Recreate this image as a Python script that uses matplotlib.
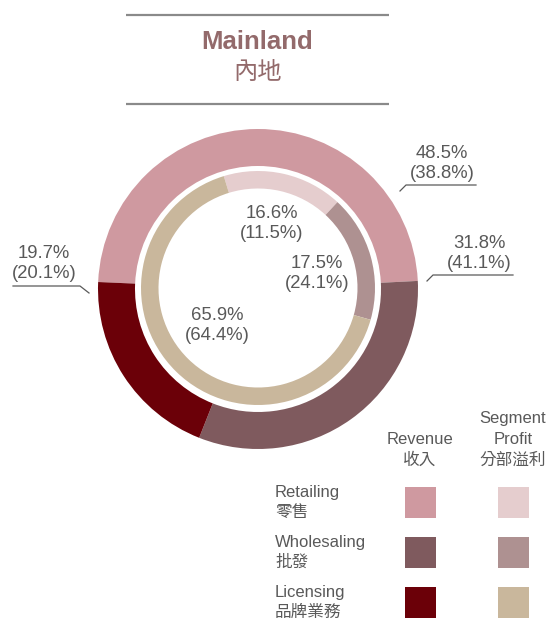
import matplotlib
matplotlib.use("Agg")
import matplotlib.pyplot as plt
from matplotlib.patches import Rectangle

# ---------------- data ----------------
categories = ["Retailing", "Wholesaling", "Licensing"]
categories_zh = ["零售", "批發", "品牌業務"]
revenue = [48.5, 31.8, 19.7]
revenue_prev = [38.8, 41.1, 20.1]
profit = [16.6, 17.5, 65.9]
profit_prev = [11.5, 24.1, 64.4]

rev_colors = ["#CF99A0", "#7F5A5E", "#6B0008"]
prof_colors = ["#E5CDCE", "#AE9191", "#C9B79C"]

TEXT = "#595959"
TITLE = "#936A6B"
FONT = ["Liberation Sans", "Noto Sans CJK TC", "DejaVu Sans"]
plt.rcParams["font.family"] = FONT

W, H = 549, 618
fig = plt.figure(figsize=(W / 100, H / 100), dpi=100)
ax = fig.add_axes([0, 0, 1, 1])


def Y(y):
    return H - y


cx, cy = 258, 289

# outer ring: revenue
ax.pie(revenue, colors=rev_colors, startangle=177.5, counterclock=False,
       radius=160, center=(cx, Y(cy)),
       wedgeprops=dict(width=37, linewidth=0))
# inner ring: segment profit
ax.pie(profit, colors=prof_colors, startangle=107, counterclock=False,
       radius=117, center=(cx, Y(cy - 1)),
       wedgeprops=dict(width=17.5, linewidth=0))

ax.set_xlim(0, W)
ax.set_ylim(0, H)
ax.set_aspect("equal")
ax.axis("off")

# ---------------- title ----------------
ax.plot([126, 389], [Y(15), Y(15)], color="#8A8A8A", lw=1.6, solid_capstyle="butt")
ax.plot([126, 389], [Y(104), Y(104)], color="#8A8A8A", lw=1.6, solid_capstyle="butt")
ax.text(257.5, Y(42), "Mainland", ha="center", va="center", fontsize=18.5,
        fontweight="bold", color=TITLE)
ax.text(257.5, Y(72), "內地", ha="center", va="center", fontsize=17.5,
        color=TITLE, family=["Noto Sans CJK TC"])


def label(x, y, cur, prev, size=13.3):
    ax.text(x, Y(y), f"{cur:.1f}%", ha="center", va="center", fontsize=size, color=TEXT)
    ax.text(x, Y(y + 20), f"({prev:.1f}%)", ha="center", va="center", fontsize=size, color=TEXT)


# outer labels
label(442, 154, revenue[0], revenue_prev[0])
label(479, 244, revenue[1], revenue_prev[1])
label(44, 253, revenue[2], revenue_prev[2])

# leader lines
ax.plot([400, 406, 476], [Y(191), Y(185), Y(185)], color=TEXT, lw=0.9)
ax.plot([427, 433, 513], [Y(281), Y(275), Y(275)], color=TEXT, lw=0.9)
ax.plot([89, 80, 13], [Y(293), Y(286), Y(286)], color=TEXT, lw=0.9)

# inner labels
label(272, 213, profit[0], profit_prev[0])
label(317, 263, profit[1], profit_prev[1])
label(217, 315, profit[2], profit_prev[2])

# ---------------- legend ----------------
LS = 12
ax.text(420, Y(439), "Revenue", ha="center", va="center", fontsize=LS, color=TEXT)
ax.text(420, Y(460), "收入", ha="center", va="center", fontsize=LS, color=TEXT)
ax.text(513, Y(419), "Segment", ha="center", va="center", fontsize=LS, color=TEXT)
ax.text(513, Y(439), "Profit", ha="center", va="center", fontsize=LS, color=TEXT)
ax.text(513, Y(460), "分部溢利", ha="center", va="center", fontsize=LS, color=TEXT)

row_tops = [487, 537, 587]
for i, (en, zh) in enumerate(zip(categories, categories_zh)):
    top = row_tops[i]
    ax.text(275, Y(top + 5), en, ha="left", va="center", fontsize=LS, color=TEXT)
    ax.text(275, Y(top + 25), zh, ha="left", va="center", fontsize=LS, color=TEXT)
    ax.add_patch(Rectangle((405, Y(top + 31)), 31, 31, color=rev_colors[i], lw=0))
    ax.add_patch(Rectangle((498, Y(top + 31)), 31, 31, color=prof_colors[i], lw=0))

fig.savefig("out.png", dpi=100)
